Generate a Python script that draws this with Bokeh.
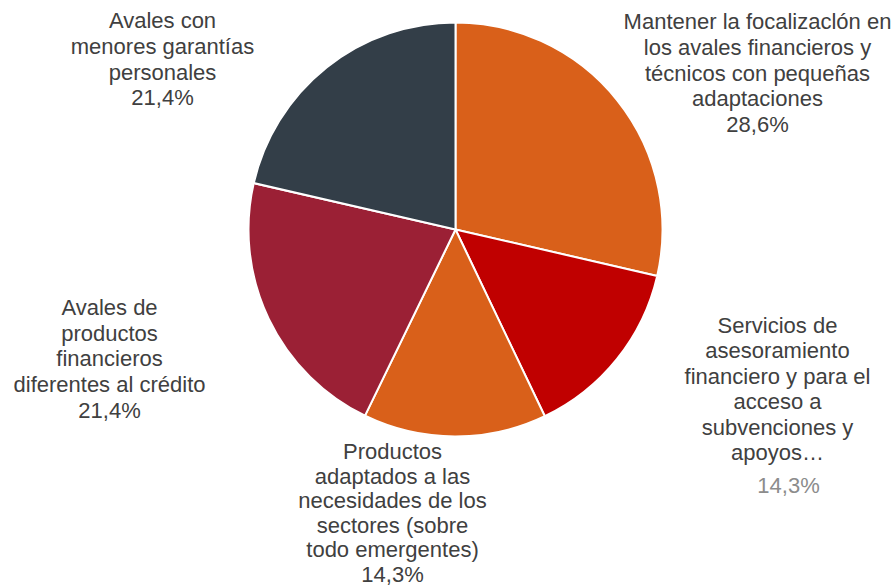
import math
from bokeh.plotting import figure
from bokeh.models import Range1d, ColumnDataSource
from bokeh.core.properties import value
from bokeh.embed import file_html
from bokeh.resources import INLINE

# ---- data ----
categories = [
    "Mantener la focalizaclón en\nlos avales financieros y\ntécnicos con pequeñas\nadaptaciones",
    "Servicios de\nasesoramiento\nfinanciero y para el\nacceso a\nsubvenciones y\napoyos…",
    "Productos\nadaptados a las\nnecesidades de los\nsectores (sobre\ntodo emergentes)",
    "Avales de\nproductos\nfinancieros\ndiferentes al crédito",
    "Avales con\nmenores garantías\npersonales",
]
shares = [28.6, 14.3, 14.3, 21.4, 21.4]
pct_labels = ["28,6%", "14,3%", "14,3%", "21,4%", "21,4%"]
colors = ["#D9601A", "#C00000", "#D9601A", "#9B2035", "#333E48"]

# ---- layout (reference pixel space, y flipped) ----
W, H = 895, 586
CX, CY, R = 455, H - 229, 207
# label: centre x, centre y of first line, line step, extra gap before pct, pct dx, pct colour
label_layout = [
    (757, 21, 25.8, 0, 0, "#404040"),
    (777, 325, 25.4, 7.5, 11, "#8C8C8C"),
    (392, 451, 24.6, 0, 0, "#404040"),
    (109, 307, 25.7, 0, 0, "#404040"),
    (162, 20, 25.8, 0, 0, "#404040"),
]

p = figure(width=W, height=H, output_backend="svg", toolbar_location=None,
           x_range=Range1d(0, W), y_range=Range1d(0, H),
           min_border=0, outline_line_color=None)
p.axis.visible = False
p.grid.visible = False
p.background_fill_color = "white"
p.border_fill_color = "white"

total = sum(shares)
starts, ends = [], []
cum = 0.0
for s in shares:
    a0 = math.pi / 2 - 2 * math.pi * (cum + s) / total
    a1 = math.pi / 2 - 2 * math.pi * cum / total
    starts.append(a0)
    ends.append(a1)
    cum += s

src = ColumnDataSource(dict(x=[CX] * len(shares), y=[CY] * len(shares),
                            start=starts, end=ends, color=colors))
p.wedge(x="x", y="y", radius=R, start_angle="start", end_angle="end",
        fill_color="color", line_color="white", line_width=2, source=src)

xs, ys, txt, cols = [], [], [], []
for cat, pct, (lx, ly, step, gap, pdx, pcol) in zip(categories, pct_labels, label_layout):
    lines = cat.split("\n")
    for i, ln in enumerate(lines):
        xs.append(lx); ys.append(H - (ly + i * step)); txt.append(ln); cols.append("#404040")
    xs.append(lx + pdx); ys.append(H - (ly + len(lines) * step + gap)); txt.append(pct); cols.append(pcol)

p.text(x=xs, y=ys, text=txt, text_color=cols, text_align="center",
       text_baseline="middle", text_font=value("Liberation Sans"),
       text_font_size="22px")

open("out.html", "w").write(file_html(p, INLINE))
